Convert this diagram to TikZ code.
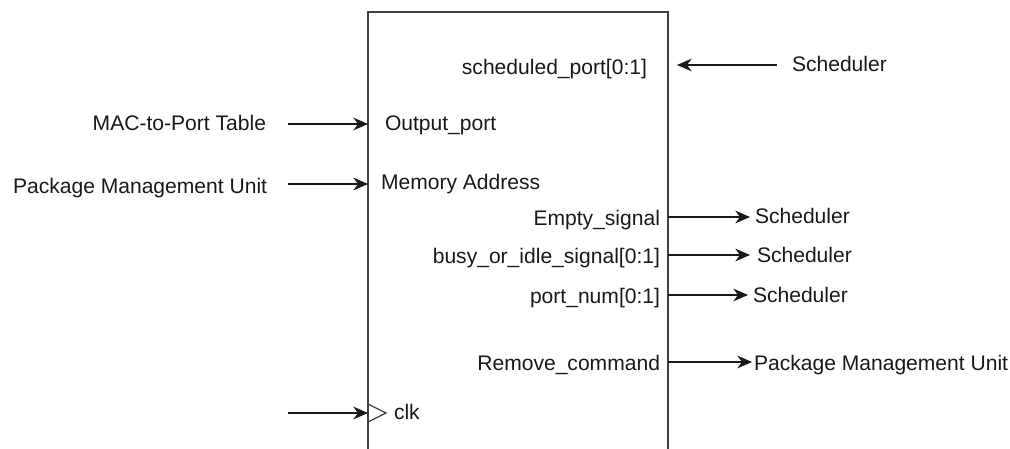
\documentclass[tikz,border=0pt]{standalone}
\usepackage{fontspec}
\setmainfont{Liberation Sans}
\usetikzlibrary{arrows.meta}
\begin{document}
\begin{tikzpicture}[x=0.75pt,y=-0.75pt,
  every node/.style={inner sep=0pt, outer sep=0pt, text=black!90, font=\fontsize{15.8}{18}\selectfont},
  conn/.style={line width=1.1pt, black!90, -{Stealth[length=11pt,width=9.5pt,inset=3.5pt]}},
  blockline/.style={draw=black!75, line width=1.2pt}]
\clip (0,0) rectangle (1010,449);
\fill[white] (0,0) rectangle (1010,449);
% block
\node[blockline, anchor=north west, minimum width=225pt, minimum height=360pt] (blk) at (368,12) {};
% inner labels
\node[anchor=mid east] (sp) at (647,71) {scheduled\_port[0:1]};
\node[anchor=mid west] (op) at (385,127) {Output\_port};
\node[anchor=mid west] (ma) at (381,186) {Memory Address};
\node[anchor=mid east] (es) at (660,222) {Empty\_signal};
\node[anchor=mid east] (bi) at (660,260) {busy\_or\_idle\_signal[0:1]};
\node[anchor=mid east] (pn) at (660,300) {port\_num[0:1]};
\node[anchor=mid east] (rc) at (660,367) {Remove\_command};
\node[anchor=mid west] (clk) at (394,416) {clk};
% outer labels
\node[anchor=mid west] (s0) at (792,68) {Scheduler};
\node[anchor=mid east] (mac) at (266,127) {MAC-to-Port Table};
\node[anchor=mid west] (pmu1) at (13,190) {Package Management Unit};
\node[anchor=mid west] (s1) at (755,220) {Scheduler};
\node[anchor=mid west] (s2) at (757,259) {Scheduler};
\node[anchor=mid west] (s3) at (753,299) {Scheduler};
\node[anchor=mid west] (pmu2) at (754,367) {Package Management Unit};
% connector end points
\coordinate (a0s) at (777,65);  \coordinate (a0e) at (677,65);
\coordinate (a1s) at (288,124); \coordinate (a1e) at (368,124);
\coordinate (a2s) at (288,184); \coordinate (a2e) at (368,184);
\coordinate (a3s) at (668,217); \coordinate (a3e) at (750,217);
\coordinate (a4s) at (668,255); \coordinate (a4e) at (750,255);
\coordinate (a5s) at (668,295); \coordinate (a5e) at (748,295);
\coordinate (a6s) at (668,362); \coordinate (a6e) at (752,362);
\coordinate (a7s) at (288,413); \coordinate (a7e) at (368,413);
\draw[conn] (a0s) -- (a0e);
\draw[conn] (a1s) -- (a1e);
\draw[conn] (a2s) -- (a2e);
\draw[conn] (a3s) -- (a3e);
\draw[conn] (a4s) -- (a4e);
\draw[conn] (a5s) -- (a5e);
\draw[conn] (a6s) -- (a6e);
\draw[conn] (a7s) -- (a7e);
% clock triangle
\draw[black!75, line width=0.9pt] (368,404) -- (386,413) -- (368,422);
\end{tikzpicture}
\end{document}
